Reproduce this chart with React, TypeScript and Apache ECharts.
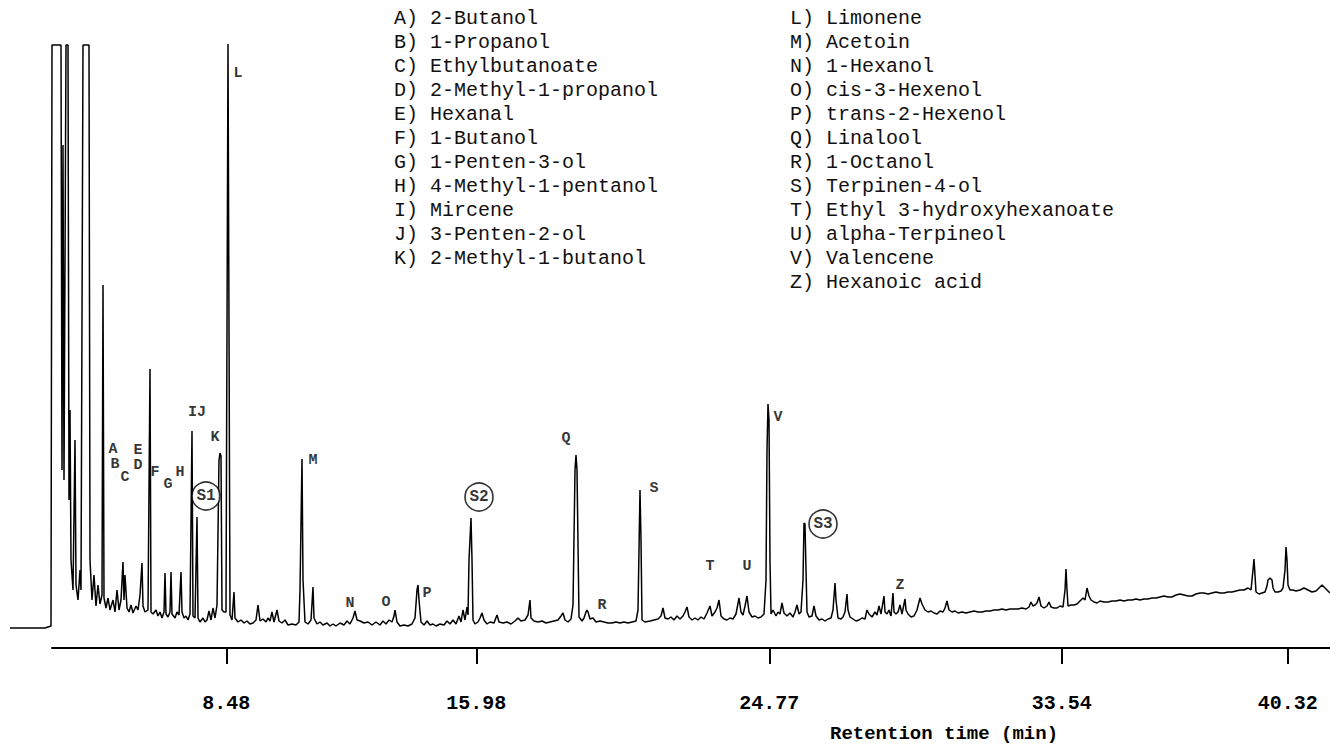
import React, { useEffect, useRef } from "react";
import * as echarts from "echarts";

// Retention time axis ticks (min)
const tickValues = [8.48, 15.98, 24.77, 33.54, 40.32];

const legendLeft = [
  "A) 2-Butanol",
  "B) 1-Propanol",
  "C) Ethylbutanoate",
  "D) 2-Methyl-1-propanol",
  "E) Hexanal",
  "F) 1-Butanol",
  "G) 1-Penten-3-ol",
  "H) 4-Methyl-1-pentanol",
  "I) Mircene",
  "J) 3-Penten-2-ol",
  "K) 2-Methyl-1-butanol",
];
const legendRight = [
  "L) Limonene",
  "M) Acetoin",
  "N) 1-Hexanol",
  "O) cis-3-Hexenol",
  "P) trans-2-Hexenol",
  "Q) Linalool",
  "R) 1-Octanol",
  "S) Terpinen-4-ol",
  "T) Ethyl 3-hydroxyhexanoate",
  "U) alpha-Terpineol",
  "V) Valencene",
  "Z) Hexanoic acid",
];

// Detector trace: [retention time (min), response (arb. units)]
const traceSolvent: [number, number][] = [
  [1.99, 0], [3.04, 0], [3.22, 2], [3.25, 583], [3.52, 583], [3.55, 158], [3.58, 483],
  [3.61, 148], [3.67, 583], [3.73, 583], [3.76, 128], [3.79, 218], [3.82, 68], [3.88, 38],
  [3.94, 188], [3.97, 43], [4.03, 28], [4.09, 58], [4.12, 38], [4.18, 583], [4.36, 583],
  [4.39, 68], [4.45, 28], [4.51, 53], [4.57, 22], [4.63, 43], [4.69, 24], [4.75, 33],
  [4.78, 343], [4.81, 30], [4.87, 20], [4.93, 30], [4.99, 18],
];
const traceEarly: [number, number][] = [
  [5.08, 28], [5.14, 16], [5.2, 38], [5.26, 18], [5.32, 28], [5.38, 66], [5.41, 28],
  [5.44, 53], [5.5, 20], [5.56, 16], [5.62, 23], [5.68, 15], [5.77, 22], [5.83, 18],
  [5.89, 33], [5.95, 65], [5.98, 22], [6.04, 16], [6.13, 18], [6.19, 259], [6.22, 16],
  [6.28, 14], [6.37, 18], [6.43, 12], [6.49, 16], [6.55, 10], [6.61, 16], [6.64, 55],
  [6.67, 14], [6.73, 11], [6.79, 16], [6.82, 56], [6.85, 14], [6.94, 10], [7.0, 16],
  [7.06, 13], [7.12, 56], [7.15, 16], [7.21, 10], [7.27, 12], [7.33, 8], [7.39, 14],
  [7.45, 197], [7.48, 12], [7.54, 10], [7.6, 111], [7.63, 10], [7.69, 6], [7.78, 10],
  [7.84, 6], [7.9, 8], [7.96, 17], [8.02, 8], [8.08, 20], [8.14, 10], [8.2, 23],
  [8.26, 168], [8.29, 175], [8.32, 172], [8.35, 18], [8.41, 16], [8.47, 16], [8.53, 584],
  [8.59, 13], [8.65, 8], [8.71, 36], [8.74, 10], [8.83, 6], [8.92, 8], [9.01, 5],
  [9.1, 7], [9.19, 4],
];
const traceMiddle: [number, number][] = [
  [9.28, 5], [9.37, 8], [9.43, 23], [9.49, 7], [9.58, 9], [9.67, 6], [9.73, 10], [9.79, 7],
  [9.85, 16], [9.91, 6], [10.0, 18], [10.06, 7], [10.15, 5], [10.24, 8], [10.33, 3],
  [10.45, 4], [10.57, 3], [10.66, 6], [10.69, 38], [10.75, 169], [10.78, 48], [10.84, 6],
  [10.93, 4], [11.02, 8], [11.08, 41], [11.11, 10], [11.2, 4], [11.29, 6], [11.38, 3],
  [11.5, 5], [11.59, 2], [11.68, 4], [11.77, 2], [11.89, 5], [12.01, 3], [12.1, 7],
  [12.19, 4], [12.28, 10], [12.34, 17], [12.4, 8], [12.49, 7], [12.61, 5], [12.73, 6],
  [12.85, 3], [12.97, 6], [13.09, 3], [13.18, 7], [13.27, 4], [13.36, 8], [13.45, 6],
  [13.51, 12], [13.54, 18], [13.6, 6], [13.69, 2], [13.81, 3], [13.93, 2], [14.05, 4],
  [14.14, 10], [14.2, 38], [14.23, 43], [14.26, 28], [14.32, 6], [14.41, 3], [14.5, 7],
  [14.59, 3], [14.68, 4], [14.77, 2], [14.89, 4], [15.01, 3], [15.1, 7], [15.19, 4],
  [15.28, 8], [15.37, 4], [15.46, 12], [15.52, 6], [15.58, 18], [15.64, 8], [15.7, 21],
  [15.73, 13], [15.76, 68], [15.82, 110], [15.85, 68], [15.88, 8], [15.94, 4], [16.03, 6],
  [16.09, 10], [16.15, 15], [16.21, 8], [16.3, 4],
];
const traceTerpenes: [number, number][] = [
  [16.39, 6], [16.51, 5], [16.6, 13], [16.66, 6], [16.78, 5], [16.9, 6], [17.02, 4],
  [17.14, 7], [17.23, 10], [17.32, 7], [17.44, 8], [17.53, 13], [17.59, 28], [17.62, 10],
  [17.71, 7], [17.83, 6], [17.95, 7], [18.07, 5], [18.19, 6], [18.31, 7], [18.43, 8],
  [18.52, 12], [18.58, 15], [18.64, 8], [18.73, 6], [18.82, 9], [18.88, 23], [18.94, 158],
  [18.97, 173], [19.0, 158], [19.06, 11], [19.15, 7], [19.21, 10], [19.27, 16], [19.3, 18],
  [19.33, 16], [19.39, 9], [19.48, 10], [19.57, 6], [19.69, 7], [19.81, 6], [19.93, 5],
  [20.05, 5], [20.17, 6], [20.29, 5], [20.41, 6], [20.53, 5], [20.65, 6], [20.77, 7],
  [20.83, 18], [20.89, 138], [20.92, 88], [20.95, 8], [21.04, 6], [21.19, 7], [21.31, 8],
  [21.43, 9], [21.52, 12], [21.58, 20], [21.64, 10], [21.73, 9], [21.82, 11], [21.91, 8],
  [22.0, 12], [22.09, 9], [22.18, 12], [22.24, 16], [22.3, 21], [22.36, 11], [22.45, 8],
  [22.54, 10], [22.63, 8], [22.72, 11], [22.81, 9], [22.9, 15], [22.99, 22], [23.05, 12],
  [23.14, 16], [23.2, 20], [23.26, 28], [23.32, 12],
];
const traceSesqui: [number, number][] = [
  [23.41, 9], [23.5, 8], [23.59, 10], [23.68, 9], [23.77, 14], [23.86, 30], [23.92, 16],
  [23.98, 13], [24.04, 22], [24.1, 32], [24.16, 16], [24.25, 11], [24.34, 12], [24.43, 10],
  [24.52, 11], [24.61, 14], [24.67, 48], [24.7, 178], [24.73, 224], [24.76, 208], [24.79, 68],
  [24.82, 14], [24.88, 18], [24.97, 12], [25.03, 16], [25.09, 14], [25.15, 25], [25.21, 15],
  [25.3, 12], [25.39, 15], [25.48, 11], [25.54, 16], [25.6, 23], [25.66, 14], [25.72, 16],
  [25.78, 48], [25.81, 105], [25.84, 104], [25.87, 58], [25.9, 16], [25.96, 11], [26.05, 12],
  [26.11, 22], [26.17, 12], [26.26, 8], [26.35, 9], [26.44, 7], [26.53, 9], [26.62, 10],
  [26.68, 18], [26.74, 45], [26.77, 28], [26.83, 10], [26.92, 9], [26.98, 11], [27.04, 16],
  [27.1, 34], [27.13, 18], [27.19, 11], [27.28, 9], [27.37, 7], [27.46, 8], [27.55, 10],
  [27.64, 9], [27.7, 18], [27.76, 14], [27.85, 11], [27.94, 16], [28.0, 13], [28.06, 22],
  [28.12, 14], [28.21, 32], [28.24, 16], [28.3, 14], [28.36, 18], [28.42, 12], [28.48, 35],
  [28.51, 16], [28.57, 14], [28.63, 16], [28.69, 23], [28.75, 14], [28.84, 29], [28.87, 18],
  [28.93, 14], [29.02, 11], [29.11, 12], [29.2, 18], [29.29, 30], [29.35, 24], [29.44, 18],
  [29.53, 16], [29.62, 17], [29.71, 15], [29.8, 14], [29.89, 17], [29.98, 16], [30.04, 20],
  [30.1, 27], [30.16, 18], [30.25, 16], [30.34, 17], [30.43, 15],
];
const traceLate: [number, number][] = [
  [30.55, 16], [30.67, 15], [30.79, 16], [30.91, 17], [31.03, 16], [31.15, 16], [31.27, 17],
  [31.39, 17], [31.51, 18], [31.63, 18], [31.75, 19], [31.87, 18], [31.99, 19], [32.11, 19],
  [32.23, 19], [32.35, 20], [32.47, 19], [32.56, 21], [32.62, 26], [32.68, 22], [32.74, 23],
  [32.8, 25], [32.86, 31], [32.92, 22], [33.01, 20], [33.1, 22], [33.16, 26], [33.22, 21],
  [33.31, 20], [33.4, 20], [33.49, 22], [33.58, 21], [33.64, 38], [33.67, 59], [33.7, 38],
  [33.73, 22], [33.82, 23], [33.91, 23], [34.0, 24], [34.06, 26], [34.12, 28], [34.18, 30],
  [34.24, 28], [34.3, 40], [34.36, 32], [34.42, 28], [34.51, 26], [34.6, 25], [34.69, 27],
  [34.81, 26], [34.93, 26], [35.05, 27], [35.17, 27], [35.29, 28], [35.41, 27], [35.53, 28],
  [35.65, 28], [35.77, 29], [35.89, 28], [36.01, 29], [36.13, 29], [36.25, 30], [36.37, 30],
  [36.49, 31], [36.61, 32], [36.73, 31], [36.85, 31], [36.97, 33], [37.09, 34], [37.21, 33],
  [37.33, 32], [37.45, 32], [37.57, 34], [37.69, 35], [37.81, 35], [37.93, 34], [38.05, 35],
  [38.17, 36], [38.29, 35], [38.41, 35], [38.53, 36], [38.65, 36], [38.77, 37], [38.89, 38],
  [39.01, 38], [39.13, 40], [39.22, 38], [39.28, 58], [39.31, 69], [39.34, 53], [39.37, 36],
  [39.46, 34], [39.55, 35], [39.64, 36], [39.7, 42], [39.73, 48], [39.79, 50], [39.85, 48],
  [39.88, 40], [39.94, 36], [40.03, 36], [40.12, 37], [40.18, 40], [40.24, 58], [40.27, 81],
  [40.3, 68], [40.33, 43], [40.39, 38], [40.48, 38], [40.57, 37], [40.69, 38], [40.81, 40],
  [40.93, 38], [41.05, 36], [41.17, 37], [41.26, 40], [41.35, 43], [41.44, 40], [41.53, 37],
  [41.59, 35],
];

// Peak letters: [time, response, text]
const peakLabels: [number, number, string][] = [
  [5.08, 179, "A"], [5.14, 164, "B"], [5.44, 151, "C"], [5.83, 163, "D"], [5.83, 178, "E"],
  [6.34, 156, "F"], [6.73, 144, "G"], [7.09, 156, "H"], [7.6, 216, "IJ"], [8.14, 191, "K"],
  [8.83, 555, "L"], [11.08, 168, "M"], [12.19, 25, "N"], [13.27, 26, "O"], [14.5, 35, "P"],
  [18.67, 190, "Q"], [19.75, 23, "R"], [21.31, 140, "S"], [22.99, 62, "T"], [24.1, 62, "U"],
  [25.03, 211, "V"], [28.69, 43, "Z"],
];
// Internal standards (circled)
const standardLabels: [number, number, string][] = [
  [7.87, 132, "S1"], [16.06, 131, "S2"], [26.38, 104, "S3"],
];

const MONO = "'Liberation Mono', 'DejaVu Sans Mono', monospace";

export default function App() {
  const ref = useRef<HTMLDivElement>(null);
  useEffect(() => {
    if (!ref.current) return;
    const chart = echarts.init(ref.current, null, { renderer: "svg" });
    const trace = [
      ...traceSolvent,
      ...traceEarly,
      ...traceMiddle,
      ...traceTerpenes,
      ...traceSesqui,
      ...traceLate,
    ];
    const legendGraphics: any[] = [];
    legendLeft.forEach((t, i) => {
      legendGraphics.push({
        type: "text",
        left: 394,
        top: 8 + i * 24,
        style: { text: t, font: `20px ${MONO}`, fill: "#111" },
      });
    });
    legendRight.forEach((t, i) => {
      legendGraphics.push({
        type: "text",
        left: 790,
        top: 8 + i * 24,
        style: { text: t, font: `20px ${MONO}`, fill: "#111" },
      });
    });
    legendGraphics.push({
      type: "text",
      left: 830,
      top: 724,
      style: { text: "Retention time (min)", font: `bold 19px ${MONO}`, fill: "#000" },
    });

    chart.setOption({
      animation: false,
      backgroundColor: "#fff",
      grid: [
        { left: 10, right: 0, top: 44, bottom: 96 },
        { left: 52, right: 0, top: 44, bottom: 96 },
      ],
      xAxis: [
        { gridIndex: 0, type: "value", min: 1.99, max: 41.59, show: false },
        {
          gridIndex: 1,
          type: "value",
          min: 3.25,
          max: 41.59,
          axisLine: { show: true, lineStyle: { color: "#000", width: 2 } },
          axisTick: {
            show: true,
            customValues: tickValues,
            length: 16,
            lineStyle: { color: "#000", width: 2 },
          },
          axisLabel: {
            show: true,
            customValues: tickValues,
            formatter: (v: number) => v.toFixed(2),
            margin: 55,
            verticalAlign: "middle",
            fontFamily: MONO,
            fontWeight: "bold",
            fontSize: 20,
            color: "#000",
          },
          splitLine: { show: false },
        },
      ],
      yAxis: [
        { gridIndex: 0, type: "value", min: -20, max: 584, show: false },
        { gridIndex: 1, type: "value", min: 0, max: 1, show: false },
      ],
      series: [
        {
          type: "line",
          xAxisIndex: 0,
          yAxisIndex: 0,
          data: trace,
          showSymbol: false,
          silent: true,
          lineStyle: { color: "#000", width: 1.5 },
        },
        {
          type: "scatter",
          xAxisIndex: 0,
          yAxisIndex: 0,
          data: peakLabels.map((p) => ({ value: [p[0], p[1]], name: p[2] })),
          symbolSize: 1,
          itemStyle: { color: "rgba(0,0,0,0)" },
          silent: true,
          label: {
            show: true,
            position: "inside",
            formatter: (p: any) => p.name,
            fontFamily: MONO,
            fontWeight: "bold",
            fontSize: 15,
            lineHeight: 13,
            color: "#000",
            align: "center",
            verticalAlign: "middle",
          },
        },
        {
          type: "scatter",
          xAxisIndex: 0,
          yAxisIndex: 0,
          data: standardLabels.map((p) => ({ value: [p[0], p[1]], name: p[2] })),
          symbol: "circle",
          symbolSize: 28,
          itemStyle: { color: "#fff", borderColor: "#000", borderWidth: 1.6 },
          silent: true,
          z: 5,
          label: {
            show: true,
            position: "inside",
            formatter: (p: any) => p.name,
            fontFamily: MONO,
            fontWeight: "bold",
            fontSize: 16,
            color: "#000",
          },
        },
      ],
      graphic: legendGraphics,
    });
    return () => chart.dispose();
  }, []);
  return (
    <div
      ref={ref}
      style={{ position: "fixed", left: 0, top: 0, width: 1330, height: 744, background: "#fff" }}
    />
  );
}
